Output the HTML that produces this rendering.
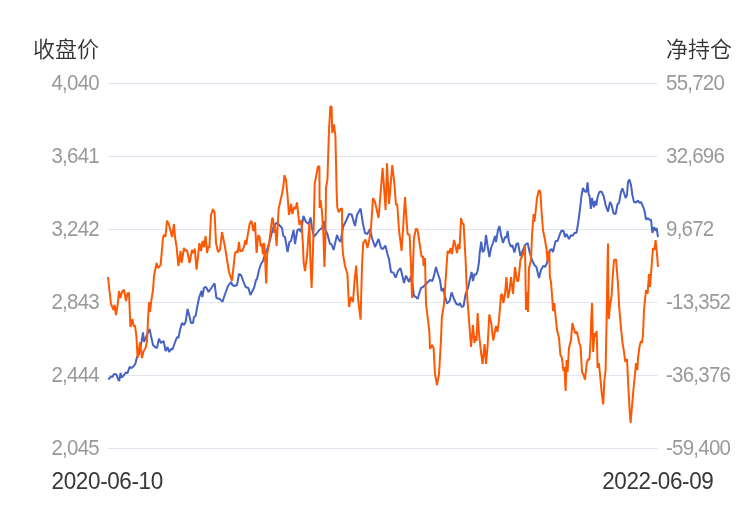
<!DOCTYPE html>
<html lang="zh-CN">
<head>
<meta charset="utf-8">
<title>收盘价 / 净持仓</title>
<style>
html,body{margin:0;padding:0;background:#fff;}
body{width:750px;height:510px;overflow:hidden;}
svg{display:block;will-change:transform;}
text{font-family:"Liberation Sans", "Noto Sans CJK SC", sans-serif;}
.ttl{font-size:22px;fill:#333;font-weight:350;}
.lab{font-size:20.5px;fill:#999;letter-spacing:-0.75px;}
.dat{font-size:22.5px;fill:#383838;letter-spacing:-0.38px;}
</style>
</head>
<body>
<svg width="750" height="510" viewBox="0 0 750 510">
<rect width="750" height="510" fill="#ffffff"/>
<g stroke="#E0E6F1" stroke-width="1" shape-rendering="crispEdges">
<line x1="108" y1="83.5" x2="658" y2="83.5"/>
<line x1="108" y1="156.5" x2="658" y2="156.5"/>
<line x1="108" y1="229.5" x2="658" y2="229.5"/>
<line x1="108" y1="302.5" x2="658" y2="302.5"/>
<line x1="108" y1="375.5" x2="658" y2="375.5"/>
<line x1="108" y1="448.5" x2="658" y2="448.5"/>
</g>
<text class="ttl" x="99" y="57" text-anchor="end">收盘价</text>
<text class="ttl" x="666" y="57">净持仓</text>
<text class="lab" transform="translate(99,90) scale(1,1.045)" text-anchor="end">4,040</text>
<text class="lab" transform="translate(99,163) scale(1,1.045)" text-anchor="end">3,641</text>
<text class="lab" transform="translate(99,236) scale(1,1.045)" text-anchor="end">3,242</text>
<text class="lab" transform="translate(99,309) scale(1,1.045)" text-anchor="end">2,843</text>
<text class="lab" transform="translate(99,382) scale(1,1.045)" text-anchor="end">2,444</text>
<text class="lab" transform="translate(99,455) scale(1,1.045)" text-anchor="end">2,045</text>
<text class="lab" transform="translate(666,90) scale(1,1.045)">55,720</text>
<text class="lab" transform="translate(666,163) scale(1,1.045)">32,696</text>
<text class="lab" transform="translate(666,236) scale(1,1.045)">9,672</text>
<text class="lab" transform="translate(666,309) scale(1,1.045)">-13,352</text>
<text class="lab" transform="translate(666,382) scale(1,1.045)">-36,376</text>
<text class="lab" transform="translate(666,455) scale(1,1.045)">-59,400</text>
<text class="dat" transform="translate(51.6,489.3) scale(1,1.07)">2020-06-10</text>
<text class="dat" transform="translate(713.4,489.3) scale(1,1.07)" text-anchor="end">2022-06-09</text>
<polyline fill="none" stroke="#4662C3" stroke-width="2" stroke-linejoin="bevel" points="108.4,379.6 111,376.4 112.4,377 114,374 116.4,374.4 118,379 119.2,381 120.6,373 121.6,377.6 124,375 126,372.4 127.6,373 129.6,367 131.6,368 134,366 135.6,363 137,357 139,354 140,350 141.6,341 143,332.4 144,342 145.6,338 147.6,333 149.6,329 151,336 153,345 155,347 157,348 159,338.6 161,343 163.6,341 165.6,351 167.6,347 169,352 171,349 172.4,349.6 174.4,344 177,337 178.4,338 180,330 182,323 184,325 185.6,322 187.6,309 189.4,316 191,323 193,323 194,317 195.6,316 197,308 199,298 200.5,293.5 201.6,291 202.4,297 204,287.6 206,287 208.6,292 212,287 214.6,283.4 216.4,298 220,299 222.4,302 224.4,296 228,286 231,282 232.4,285 234.4,286 237,285 239,274 241,275 243.6,282 245.6,287 248.4,288 250.4,295 254,288 256,280 257,279 259,270 261,264 263,261 265,254 267,250 270,240 273,228 276,223 278,223.6 282,228 283.4,236 285,237 287.6,252 289.4,242 291,241 293.6,230 295,244 297.4,230 299,229 301,232 303.4,216 306,222 308.6,224 310.6,217.6 312,228 314,237 317,233 319.4,230 322,228 323.6,221 325.4,230 327.4,234 330,244 331.4,244 333.6,250 337,235 339,240 340.6,242 343,227 346,221 349,214 351.6,214.4 355,226 357,215 360.6,208.6 363,224 365,233 367.4,234 370,229 372,238 375,247 378.6,239 381,248 383,249 385.4,245.6 387.4,254 389,259 391,272 393.4,272.6 395.6,277.6 398,271 400.4,268 402,274 404,283 406,275.6 409,282 411,276 413,288 414,296 416,297 417.6,299 420,291 421,288 423,287 426,284 430,280 432.4,281 434.4,274 436,267 438,274 440,280 441.6,291 443,288 444.4,294 447,303.6 449.6,301 451.6,292.4 454,299 456.4,304 459,305 460,303 461.6,307 463.6,306 465.6,294 468,288 470,279 471.6,272 473,281 474.4,274 476,275 477.6,271 479,262 479.6,254 481.2,241.6 482.6,252 484.4,250 486,235 487.6,246 489.4,257 491,248 493,243 495,236 496,242 498,230 499.4,226 501,235 503,243 505,237 506.4,237.6 507.6,231 509,242 511,247 512.4,245 514.4,252.4 516.4,244 518,243 520.4,256 523,250 525,245 527.6,243 529.6,252 532,260 534.4,265 536.4,267 539,278 541,270 543.6,265.6 545,267 547,263 549,254 550,250 551.6,249 553,252 555.6,241 557.6,241 560,234 561.6,230.4 563.6,231 565,237 566.4,234 569,239 571,235 572.6,236 574.4,233 576.4,233 578,224 580,209 581.6,195 583,188 584.4,191 586.4,192 587.6,182.4 588.6,194 589.6,196 590.8,209 592,198 593.8,207.2 595,201 596.2,205.6 597.6,197 599.4,192 601.6,191.6 603.6,196 605.6,205 608,211.6 610,202 611.6,205 613.6,213.6 615.6,214 617.6,204 619,203 621,192 622.4,188.4 624,193 625.6,198 627,195 628,182 629.4,179.6 631,185 632.4,195 634,202 636,202.4 638,200.6 639.6,203 641,202 643,206.4 644.6,211 646,219.6 648,218 649.6,220 651,219.6 652.4,233 654,227 655.6,231 656.6,228 658,237"/>
<polyline fill="none" stroke="#FD5905" stroke-width="2" stroke-linejoin="bevel" points="108,277 109.4,290 111,304 113.6,310 114.6,305 116,315 118,302 119,291 120.4,298 122,292 124,289.6 126,301 127.6,293 129,293 130.4,327 132.4,319 133.6,326 135,325.6 136.4,336 137.6,358 140,342.4 142,358 143.6,351 145.6,348 147,341 148,320 149,302 150,312 151.4,300 153,290 154,276 156.6,263 158,268 160.6,265 163,238 164,234.4 165.4,237 167,220.6 169,225 172,237 174,224 175,237 176.6,247 178.4,266 180.6,251 181.6,263 184,248 185.6,251 187,250 189.6,263 192,250 193.3,253 194.7,248.7 196.6,269.6 199.4,243 201,251 202.6,241 204,247 205.6,236 207,253 208.4,246 209.4,248 211,215 213,209 214.6,213 216,243 218,252 220,250 222,232 225,247 229,272 232,281 235,253 237,251 237.6,253 239,242 240,251 242.2,251 244,246.7 245.4,240 246.3,244.7 248,233.3 249.6,224 251.4,220.6 253.4,231 255,222.4 256.6,253 258.2,235 259.6,237 260.7,246.3 261.7,243.5 263,254.5 263.7,243 264.4,245.6 265.1,259.3 266.2,283.4 267.2,254 269.2,243 270,236 272,219 273,218 274.2,233 275,226 276.6,246 278.6,209 282,194 283.4,186 284.4,175 286,180 287.4,194 289,215 291,204 292.4,214 294,207 295.4,209 297,202.4 299.4,225 301.4,220 303,246 303.6,262 305,271 307,256 309.4,223 310.4,260 311.6,288 313,250 314,215 314.7,183.3 316.3,175.3 318,166.5 319.4,166.2 319.6,208 320.6,200 322,212 323.4,234 324.4,267 325.4,240 326,188 327.4,180 329,130 330.4,106.4 331.6,106.4 332.2,133 334,124.4 335.4,136 335.9,158 336.7,194 337.3,207.3 338.7,212.3 340.7,208.8 342,208.6 342.3,244 343,254 345,266 347.4,274 349,307 351,297 353,302 354.6,280 356.2,265.6 358,298 360.6,319.6 362,266 363.2,243 365.4,239.5 367.4,248 369.4,239 371,228 373,198 375,202 378.6,218 381,188 382.6,167.8 385.6,210 387,163.3 389,204 392.3,165.2 394.4,184 396,205 397.2,204 399,230 401.6,251 403.6,220 405,197 406.4,218 407.6,234 409.6,235 411,266 412,298 413,266 414,238 416,228.4 417.6,230 420,246 421.6,257 423,256 423.6,266 425,258 426,304 428,320 429.4,332 430,349 432,345 433.6,348 435,374 437,385 439,374 441,340 441.8,318 444,304 445.6,280 447.6,251 449.4,253 450.6,248 452,254 454,240 455.6,246 457,253 458.4,244 459.6,249 461,218 462.4,224 463.6,223.6 465,250 465.6,260 467,294 468.4,312 469.4,325 471,347 473,325 474.4,343 476,336 476.6,341 477.6,313 479,334 481,352 482.6,364 484.6,344 486,364 487.6,346 489.3,314.5 491.2,323 493.2,340.5 496,326 497.5,332 499,320 501,295 502,294 503.4,303 505,294 506.4,277 508,298 509.6,290 511,277 513,294 515,267 517,281 518.4,281 520.4,260 523,254 525,246 526,310 527,292 528,312 529,268 531,260 532,236 533.6,214 534.4,222 535.6,212 537,198 539,190 540.4,192 541.6,212 543,230 545,240 546.6,250 547.6,262 548.6,251 549.4,252 549.8,276 551,282 552.4,300 553,311 554.4,303 555,311 557,330 559,338 560.4,355 562,358 563.4,371 564.4,367 565.6,391 566.6,360 567.6,372 569,348 571,340 572.4,323 575,333 577,332 579,342 580.6,347 582,372 583.6,375 585,379.6 586.6,364 588,359 589.4,360 590.6,340 591.2,320 592,303 593.2,352 594.4,333 595.4,337 596.6,331 597.2,350 597.6,368 598.8,363 600,374 601.6,392 603.2,404.4 604.4,380 605.6,370 606.6,320 607.6,260 608,243.6 608.4,290 608.8,319 610,306 611.6,296 613,272 614,260 616,259.4 618,284 619.4,310 621,328 622.4,342 624,352 625.2,361.6 627,359 628,380 629.6,410 630.6,423 632,406 633.6,388 635,374 636,363 637.4,370 638,358 639.6,346 641,341 642,343 643,334 644,310 646,290 647.6,293.6 649,274 650,287 651.6,266 653,248 654.4,250 655.6,240 657,254 658,267"/>
</svg>
</body>
</html>
